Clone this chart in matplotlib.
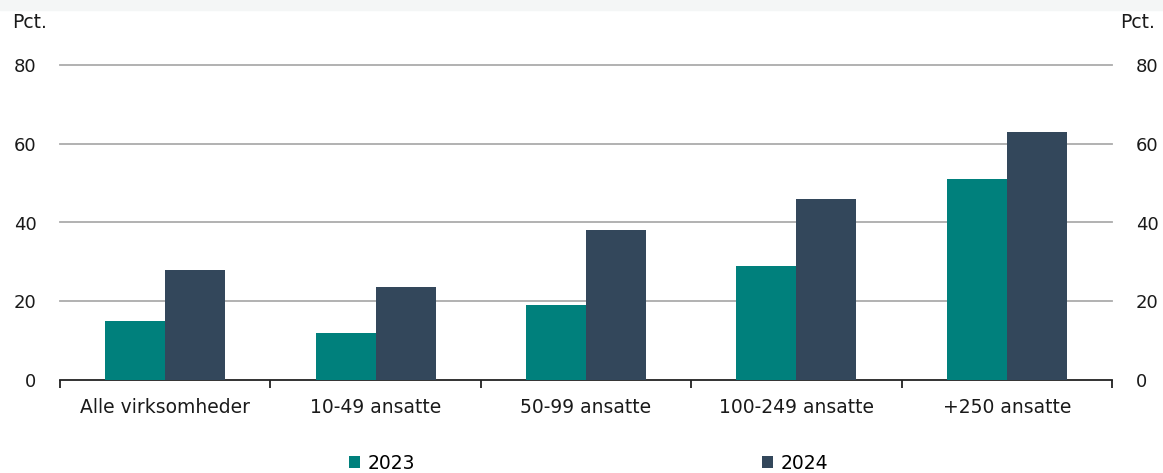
import numpy as np
import matplotlib.pyplot as plt
from matplotlib.patches import Rectangle

categories = ['Alle virksomheder', '10-49 ansatte', '50-99 ansatte', '100-249 ansatte', '+250 ansatte']
values_2023 = [15, 12, 19, 29, 51]
values_2024 = [28, 23.5, 38, 46, 63]
yticks = [0, 20, 40, 60, 80]

col_2023 = '#00807C'
col_2024 = '#33475B'
txt = '#1a1a1a'
fs = 13.5

plt.rcParams['font.family'] = ['DejaVu Sans']

fig = plt.figure(figsize=(11.63, 4.73), dpi=100)
# faint strip left over from the cropped title
fig.patches.append(Rectangle((0, 1 - 10 / 473), 1, 10 / 473, transform=fig.transFigure,
                             color='#F4F6F6', zorder=0))

ax = fig.add_axes([60 / 1163, 1 - 380 / 473, 1052 / 1163, 315 / 473])

x = np.arange(len(categories))
w = 0.285
ax.bar(x - w / 2, values_2023, w, color=col_2023, label='2023', zorder=3)
ax.bar(x + w / 2, values_2024, w, color=col_2024, label='2024', zorder=3)

ax.set_xlim(-0.5, len(categories) - 0.5)
ax.set_ylim(0, 80)
ax.set_yticks(yticks)
for y in yticks[1:]:
    ax.axhline(y, color='#ABABAB', lw=1.3, zorder=1, clip_on=False)

for s in ['top', 'left', 'right']:
    ax.spines[s].set_visible(False)
ax.spines['bottom'].set_color('#222222')
ax.spines['bottom'].set_linewidth(1.3)

ax.set_xticks(np.arange(-0.5, len(categories), 1))
ax.set_xticklabels([])
ax.set_xticks(x, minor=True)
ax.set_xticklabels(categories, minor=True, fontsize=fs, color=txt)
ax.tick_params(axis='x', which='major', length=6, width=1.3, color='#222222', direction='out')
ax.tick_params(axis='x', which='minor', length=0, pad=13)
ax.tick_params(axis='y', length=0, labelsize=13, labelcolor=txt, pad=17,
               labelright=True, right=False)

fig.text(12 / 1163, 1 - 22 / 473, 'Pct.', fontsize=13.5, color=txt, va='center', ha='left')
fig.text(1120 / 1163, 1 - 22 / 473, 'Pct.', fontsize=13.5, color=txt, va='center', ha='left')

leg = fig.legend(loc='center', bbox_to_anchor=(0.506, 1 - 463 / 473), ncol=2, frameon=False,
                 fontsize=fs, handlelength=0.6, handleheight=0.6, columnspacing=18.5,
                 handletextpad=0.4)

fig.savefig('out.png', dpi=100)
